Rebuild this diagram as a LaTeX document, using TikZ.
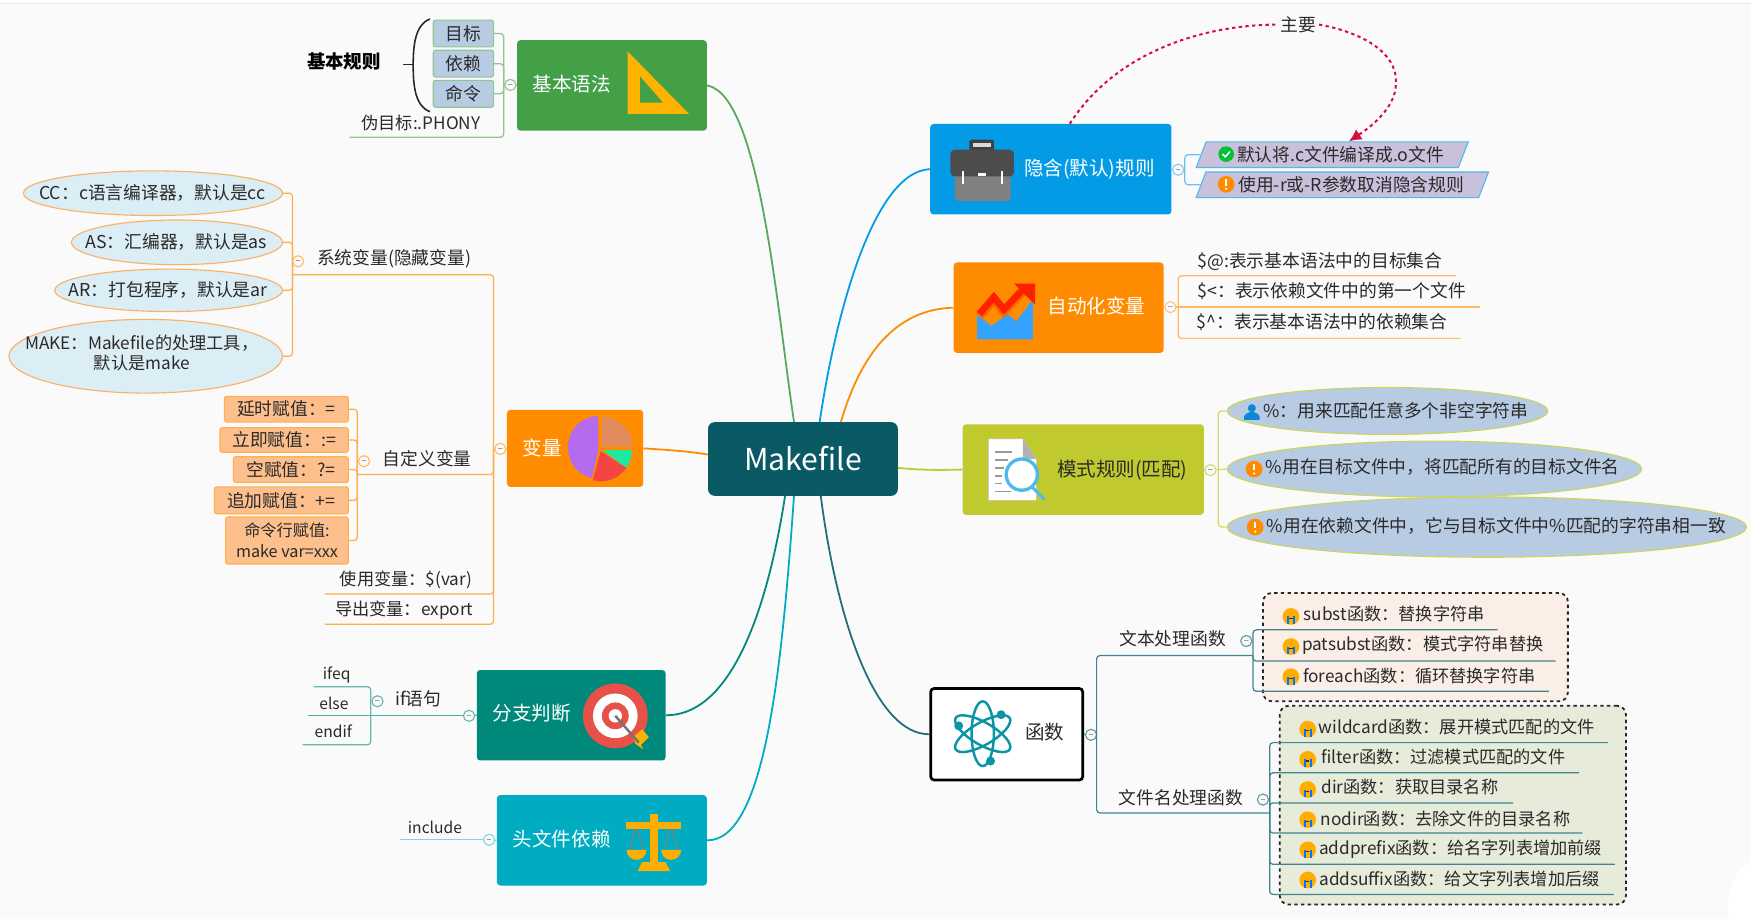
\documentclass[tikz,border=0pt]{standalone}
\usepackage{fontspec}
\setmainfont{Noto Sans CJK SC}
\usepackage{tikz}
\usetikzlibrary{arrows.meta}
\usetikzlibrary{shapes.geometric}
\definecolor{bgc}{HTML}{FAFAFA}
\definecolor{inkc}{HTML}{2A2A2A}
\definecolor{rootc}{HTML}{095A64}
\definecolor{greenc}{HTML}{43A047}
\definecolor{bluec}{HTML}{039BE5}
\definecolor{orangec}{HTML}{FF8C00}
\definecolor{olivec}{HTML}{C0CA2E}
\definecolor{tealc}{HTML}{00897B}
\definecolor{cyanc}{HTML}{00ACC1}
\definecolor{navyc}{HTML}{1F6F7C}
\definecolor{skyc}{HTML}{B7CBE3}
\definecolor{icec}{HTML}{DCEEF5}
\definecolor{peachc}{HTML}{FDBF8C}
\definecolor{lilacc}{HTML}{C9C1DB}
\definecolor{creamc}{HTML}{FBEEE6}
\definecolor{sagec}{HTML}{E7EBD9}
\definecolor{relc}{HTML}{D40F3C}
\definecolor{goldc}{HTML}{FFB300}
\definecolor{ovalc}{HTML}{F9B265}
\definecolor{targetc}{HTML}{E8504A}
\definecolor{piea}{HTML}{E08C5C}
\definecolor{pieb}{HTML}{1DE9A0}
\definecolor{piec}{HTML}{F44545}
\definecolor{pied}{HTML}{B56BF0}
\tikzset{
  okicon/.pic={\fill[green!70!black!80!cyan] (0,0) circle (7pt);
    \draw[white,line width=1.4pt] (-3.2,0) -- (-0.8,2.4) -- (3.4,-2.2);},
  warnicon/.pic={\fill[orange!90!yellow] (0,0) circle (7.5pt);
    \draw[white,line width=1.8pt] (0,-4.5) -- (0,1.2);
    \fill[white] (0,4) circle (1.1pt);},
  usericon/.pic={\fill[cyan!70!blue] (0,-3.5) circle (3.6pt);
    \fill[cyan!70!blue] (-7,7) -- (-7,4) .. controls (-6,1) and (-3,1) .. (-2,0) -- (2,0) .. controls (3,1) and (6,1) .. (7,4) -- (7,7) -- cycle;},
  cryicon/.pic={\fill[goldc!90!orange] (0,0) circle (7.5pt);
    \fill[blue!55!cyan] (-3.5,0) rectangle (-1.8,7);
    \fill[blue!55!cyan] (1.8,0) rectangle (3.5,7);
    \fill[inkc] (-1.5,1) rectangle (1.5,2);},
}
\begin{document}
\begin{tikzpicture}[x=1pt,y=-1pt,
    topic/.style={rectangle,rounded corners=3pt,inner sep=0pt},
    toptxt/.style={inner sep=0pt,text=white,font=\fontsize{17.5}{21}\selectfont},
    txt/.style={inner sep=0pt,text=inkc,font=\fontsize{15.9}{19}\selectfont},
    fntxt/.style={inner sep=0pt,text=inkc,font=\fontsize{15.4}{18}\selectfont},
    smalltxt/.style={inner sep=0pt,text=inkc,font=\fontsize{14}{17}\selectfont},
    coll/.style={circle,draw,line width=1pt,fill=bgc,minimum size=10pt,inner sep=0pt,font=\fontsize{6}{6}\selectfont},
    oval/.style={ellipse,draw,line width=1pt,inner sep=0pt},
    tag/.style={rectangle,rounded corners=2pt,draw,line width=1pt,inner sep=0pt,text=inkc,font=\fontsize{15.9}{19}\selectfont},
    slant/.style={trapezium,trapezium left angle=62,trapezium right angle=118,trapezium stretches=true,draw=bluec!70!white,fill=lilacc,line width=1pt,inner sep=0pt,text=inkc,font=\fontsize{15.9}{19}\selectfont},
    mainline/.style={line width=1.6pt},
    br/.style={line width=1.1pt,rounded corners=3pt},
    dashbox/.style={rectangle,rounded corners=8pt,draw=black!85,dashed,line width=1.6pt,inner sep=0pt}]
    \useasboundingbox (0,0) rectangle (1568,823);
    \fill[bgc] (0,0) rectangle (1568,823);
    \fill[white] (0,0) rectangle (1568,3);
    \fill[black!8] (0,3) rectangle (1568,4);
    \fill[white] (1568,771) .. controls (1552,780) and (1545,800) .. (1548,823) -- (1568,823) -- cycle;

    % root and main topics
    \node[topic,fill=rootc,rounded corners=6pt,minimum width=170pt,minimum height=66pt,text=white,font=\fontsize{27}{31}\selectfont] (root) at (719,411) {Makefile};
    \node[topic,fill=greenc,minimum width=170pt,minimum height=81pt] (basic) at (548,76.5) {};
    \node[topic,fill=bluec,minimum width=216pt,minimum height=81pt] (hidden) at (941,151.5) {};
    \node[topic,fill=orangec,minimum width=188pt,minimum height=81pt] (auto) at (948,275.5) {};
    \node[topic,fill=olivec,minimum width=216pt,minimum height=81pt] (pattern) at (970,420.5) {};
    \node[topic,fill=white,draw=black,line width=2.4pt,minimum width=136pt,minimum height=82pt] (func) at (901.5,657.5) {};
    \node[topic,fill=orangec,minimum width=122pt,minimum height=69pt] (var) at (515,401.5) {};
    \node[topic,fill=tealc,minimum width=169pt,minimum height=81pt] (branch) at (511.5,640.5) {};
    \node[topic,fill=cyanc,minimum width=188pt,minimum height=81pt] (incl) at (539,752.5) {};
    \node[toptxt] (basictxt) at (512,75) {基本语法};
    \node[toptxt] (hiddentxt) at (975.5,151.5) {隐含(默认)规则};
    \node[toptxt] (autotxt) at (982,274) {自动化变量};
    \node[toptxt,text=inkc] (patterntxt) at (1005,421) {模式规则(匹配)};
    \node[toptxt,text=inkc] (functxt) at (935.5,656) {函数};
    \node[toptxt] (vartxt) at (485.5,401) {变量};
    \node[toptxt] (branchtxt) at (476,638.5) {分支判断};
    \node[toptxt] (incltxt) at (503,751) {头文件依赖};

    \draw[mainline,greenc!90!white] (basic.east) .. controls (680,85) and (695,270) .. ([xshift=-8pt]root.north);
    \draw[mainline,bluec] (hidden.west) .. controls (785,153) and (750,270) .. ([xshift=15pt]root.north);
    \draw[mainline,orangec] (auto.west) .. controls (800,277) and (770,320) .. ([xshift=34pt]root.north);
    \draw[mainline,olivec] ([yshift=-8pt]root.east) .. controls (825,421) and (840,421) .. (pattern.west);
    \draw[mainline,navyc] ([xshift=16pt]root.south) .. controls (750,560) and (785,658) .. (func.west);
    \draw[mainline,orangec] (var.east) .. controls (600,403) and (615,404) .. ([yshift=4pt]root.west);
    \draw[mainline,tealc] ([xshift=-16pt]root.south) .. controls (685,560) and (650,641) .. (branch.east);
    \draw[mainline,cyanc] ([xshift=-8pt]root.south) .. controls (700,600) and (685,753) .. (incl.east);

    % basic rules
    \node[tag,fill=skyc,draw=greenc!60!white,minimum width=54pt,minimum height=24pt] (goal) at (415,30) {目标};
    \node[tag,fill=skyc,draw=greenc!60!white,minimum width=54pt,minimum height=24pt] (dep) at (415,57) {依赖};
    \node[tag,fill=skyc,draw=greenc!60!white,minimum width=54pt,minimum height=24pt] (cmd) at (415,84) {命令};
    \node[fntxt] (phony) at (377,110) {伪目标:.PHONY};
    \node[inner sep=0pt,text=black,font=\bfseries\fontsize{16.5}{19}\selectfont] (rule) at (308,55) {基本规则};
    \node[coll,draw=greenc!60!white] (basiccoll) at (457,76) {$-$};
    \coordinate (basicspine) at (451,76);
    \coordinate (phonyl) at (313,123);
    \draw[line width=1.4pt,black!85] (385,17) .. controls (372,22) and (370,40) .. (370,58) .. controls (370,78) and (372,95) .. (385,100);
    \draw[line width=1.2pt,black!85] (361,58) -- (370,58);
    \draw[br,greenc!60!white] (goal.east) -| (basicspine);
    \draw[br,greenc!60!white] (dep.east) -| (basicspine);
    \draw[br,greenc!60!white] (cmd.east) -| (basicspine);
    \draw[br,greenc!60!white] (phonyl) -| (basicspine);
    \draw[br,greenc!60!white] (basic.west) -- (basiccoll) -- (basicspine);

    % variables
    \node[oval,fill=icec,draw=ovalc,minimum width=232pt,minimum height=40pt] (cc) at (137,173) {};
    \node[oval,fill=icec,draw=ovalc,minimum width=189pt,minimum height=40pt] (as) at (158.5,217) {};
    \node[oval,fill=icec,draw=ovalc,minimum width=204pt,minimum height=38pt] (ar) at (151,260) {};
    \node[oval,fill=icec,draw=ovalc,minimum width=245pt,minimum height=66pt] (make) at (130.5,319) {};
    \node[txt] (cctxt) at (136.5,173) {CC：c语言编译器，默认是cc};
    \node[txt] (astxt) at (158,217) {AS：汇编器，默认是as};
    \node[txt] (artxt) at (150.5,260) {AR：打包程序，默认是ar};
    \node[fntxt,align=center] (maketxt) at (127,316) {MAKE：Makefile的处理工具，\\默认是make};
    \node[txt] (sys) at (353,232) {系统变量(隐藏变量)};
    \node[txt] (custom) at (382.5,411) {自定义变量};
    \node[fntxt] (usevar) at (363.5,519) {使用变量：\$(var)};
    \node[fntxt] (expvar) at (362,546) {导出变量：export};
    \node[tag,fill=peachc,draw=orangec!70!white,minimum width=111pt,minimum height=23pt] (delay) at (256.5,366.5) {延时赋值：=};
    \node[tag,fill=peachc,draw=orangec!70!white,minimum width=115pt,minimum height=22pt] (now) at (254.5,394) {立即赋值：:=};
    \node[tag,fill=peachc,draw=orangec!70!white,minimum width=103pt,minimum height=23pt] (empty) at (260.5,420.5) {空赋值：?=};
    \node[tag,fill=peachc,draw=orangec!70!white,minimum width=120pt,minimum height=24pt] (append) at (252,448) {追加赋值：+=};
    \node[tag,fill=peachc,draw=orangec!70!white,minimum width=110pt,minimum height=42pt,align=center,font=\fontsize{14.5}{19}\selectfont] (cmdline) at (257,484) {命令行赋值:\\make var=xxx};
    \node[coll,draw=orangec!60!white] (varcoll) at (448,402) {$-$};
    \node[coll,draw=orangec!60!white] (syscoll) at (267,234) {$-$};
    \node[coll,draw=orangec!60!white] (customcoll) at (326,413) {$-$};
    \coordinate (varspine) at (442,402);
    \coordinate (sysl) at (262,246);
    \coordinate (customl) at (320,425);
    \coordinate (usel) at (291,532);
    \coordinate (expl) at (291,559);
    \draw[br,orangec!70!white] (sysl) -| (varspine);
    \draw[br,orangec!70!white] (customl) -| (varspine);
    \draw[br,orangec!70!white] (usel) -| (varspine);
    \draw[br,orangec!70!white] (expl) -| (varspine);
    \draw[br,orangec!70!white] (var.west) -- (varcoll) -- (varspine);
    \draw[br,orangec!70!white] (cc.east) -| (sysl);
    \draw[br,orangec!70!white] (as.east) -| (sysl);
    \draw[br,orangec!70!white] (ar.east) -| (sysl);
    \draw[br,orangec!70!white] (make.east) -| (sysl);
    \draw[br,orangec!70!white] (delay.east) -| (customl);
    \draw[br,orangec!70!white] (now.east) -| (customl);
    \draw[br,orangec!70!white] (empty.east) -| (customl);
    \draw[br,orangec!70!white] (append.east) -| (customl);
    \draw[br,orangec!70!white] (cmdline.east) -| (customl);

    % if statement
    \node[smalltxt] (ifeq) at (301.5,604) {ifeq};
    \node[smalltxt] (else) at (299,630) {else};
    \node[smalltxt] (endif) at (298.5,655) {endif};
    \node[txt] (ifst) at (374.5,626) {if语句};
    \node[coll,draw=tealc!60!white] (branchcoll) at (420,641) {$-$};
    \node[coll,draw=tealc!60!white] (ifcoll) at (338,628) {$-$};
    \coordinate (ifl) at (276,641);
    \coordinate (ifspine) at (332,641);
    \coordinate (ifeql) at (281,615);
    \coordinate (endifl) at (271,667);
    \draw[br,tealc!70!white] (ifl) -- (branchcoll);
    \draw[br,tealc!70!white] (branch.west) -- (branchcoll);
    \draw[br,tealc!60!white] (ifeql) -| (ifspine);
    \draw[br,tealc!60!white] (endifl) -| (ifspine);

    % include
    \node[smalltxt] (inc) at (389.5,741) {include};
    \node[coll,draw=cyanc!50!white] (inclcoll) at (438,752) {$-$};
    \coordinate (incl0) at (358,752);
    \draw[br,cyanc!50!white] (incl0) -- (inclcoll);
    \draw[br,cyanc!50!white] (incl.west) -- (inclcoll);

    % implicit rules
    \node[slant,minimum width=244pt,minimum height=23pt] (defrule) at (1193,138.5) {\hspace*{15pt}默认将.c文件编译成.o文件};
    \node[slant,minimum width=262pt,minimum height=23pt] (norule) at (1202,165.5) {\hspace*{16pt}使用-r或-R参数取消隐含规则};
    \node[coll,draw=bluec!50!white] (hiddencoll) at (1055,152) {$-$};
    \coordinate (hiddenspine) at (1061,152);
    \draw[br,bluec!60!white] (hidden.east) -- (hiddencoll) -- (hiddenspine);
    \draw[br,bluec!60!white] (defrule.west) -| (hiddenspine);
    \draw[br,bluec!60!white] (norule.west) -| (hiddenspine);
    \node[inner sep=0pt,text=inkc,font=\fontsize{15.9}{19}\selectfont,fill=bgc,inner xsep=2pt] (mainlbl) at (1163,22) {主要};
    \draw[relc,dashed,line width=1.8pt] ([xshift=17pt]hidden.north) .. controls (1000,45) and (1080,22) .. (mainlbl.west);
    \draw[relc,dashed,line width=1.8pt,-{Latex[length=11pt,width=11pt]}] (mainlbl.east) .. controls (1215,28) and (1252,45) .. (1250,75) .. controls (1250,95) and (1230,112) .. ([xshift=15pt]defrule.north);

    % automatic variables
    \node[txt] (atv) at (1182,234) {\$@:表示基本语法中的目标集合};
    \node[txt] (ltv) at (1192.5,261) {\$<：表示依赖文件中的第一个文件};
    \node[txt] (hatv) at (1184,288) {\$\textasciicircum：表示基本语法中的依赖集合};
    \node[coll,draw=orangec!50!white] (autocoll) at (1048,275) {$-$};
    \coordinate (autospine) at (1055,275);
    \coordinate (atl) at (1304,247);
    \coordinate (ltl) at (1325,275);
    \coordinate (hatl) at (1308,303);
    \draw[br,orangec!60!white] (atl) -| (autospine);
    \draw[br,orangec!60!white] (hatl) -| (autospine);
    \draw[br,orangec!60!white] (ltl) -- (autospine) -- (autocoll);
    \draw[br,orangec!60!white] (auto.east) -- (autocoll);

    % pattern rules
    \node[oval,fill=skyc,draw=olivec!80!white,minimum width=287pt,minimum height=42pt] (pct) at (1242.5,368) {};
    \node[oval,fill=skyc,draw=olivec!80!white,minimum width=371pt,minimum height=50pt] (pcta) at (1284.5,420) {};
    \node[oval,fill=skyc,draw=olivec!80!white,minimum width=465pt,minimum height=54pt] (pctb) at (1331.5,472) {};
    \node[txt] (pcttxt) at (1250,368) {\%：用来匹配任意多个非空字符串};
    \node[txt] (pctatxt) at (1292,418) {\%用在目标文件中，将匹配所有的目标文件名};
    \node[txt] (pctbtxt) at (1340,471) {\%用在依赖文件中，它与目标文件中\%匹配的字符串相一致};
    \node[coll,draw=olivec!70!white] (patterncoll) at (1084,421) {$-$};
    \coordinate (patternspine) at (1091,421);
    \draw[br,olivec!70!white] (pattern.east) -- (patterncoll) -- (pcta.west);
    \draw[br,olivec!70!white] (pct.west) -| (patternspine);
    \draw[br,olivec!70!white] (pctb.west) -| (patternspine);

    % functions
    \node[dashbox,fill=creamc,minimum width=273pt,minimum height=97pt] (textbox) at (1267.5,579.5) {};
    \node[dashbox,fill=sagec,minimum width=310pt,minimum height=178pt] (filebox) at (1301,721) {};
    \node[txt] (textfn) at (1050,572) {文本处理函数};
    \node[txt] (filefn) at (1057.5,714) {文件名处理函数};
    \node[fntxt] (subst) at (1248.5,550) {subst函数：替换字符串};
    \node[fntxt] (patsubst) at (1274,578) {patsubst函数：模式字符串替换};
    \node[fntxt] (foreach) at (1271,605) {foreach函数：循环替换字符串};
    \node[fntxt] (wildcard) at (1304.5,651) {wildcard函数：展开模式匹配的文件};
    \node[fntxt] (filter) at (1292.5,678) {filter函数：过滤模式匹配的文件};
    \node[fntxt] (dir) at (1262.5,705) {dir函数：获取目录名称};
    \node[fntxt] (nodir) at (1294.5,733) {nodir函数：去除文件的目录名称};
    \node[fntxt] (addprefix) at (1308,760) {addprefix函数：给名字列表增加前缀};
    \node[fntxt] (addsuffix) at (1307,787) {addsuffix函数：给文字列表增加后缀};
    \node[coll,draw=navyc!70!white] (funccoll) at (977,658) {$-$};
    \node[coll,draw=navyc!70!white] (textcoll) at (1116,574) {$-$};
    \node[coll,draw=navyc!70!white] (filecoll) at (1131,716) {$-$};
    \coordinate (funcspine) at (982,658);
    \coordinate (textl) at (1122,587);
    \coordinate (filel) at (1137,728);
    \coordinate (substl) at (1341,564);
    \coordinate (patl) at (1393,592);
    \coordinate (forl) at (1387,619);
    \coordinate (wildl) at (1440,665);
    \coordinate (filtl) at (1414,692);
    \coordinate (dirl) at (1355,719);
    \coordinate (nodl) at (1417,746);
    \coordinate (prel) at (1446,774);
    \coordinate (sufl) at (1445,801);
    \draw[br,navyc!85!white] (func.east) -- (funccoll) -- (funcspine);
    \draw[br,navyc!85!white] (textl) -| (funcspine);
    \draw[br,navyc!85!white] (filel) -| (funcspine);
    \draw[br,navyc!85!white] (substl) -| (textl);
    \draw[br,navyc!85!white] (patl) -| (textl);
    \draw[br,navyc!85!white] (forl) -| (textl);
    \draw[br,navyc!85!white] (wildl) -| (filel);
    \draw[br,navyc!85!white] (filtl) -| (filel);
    \draw[br,navyc!85!white] (dirl) -| (filel);
    \draw[br,navyc!85!white] (nodl) -| (filel);
    \draw[br,navyc!85!white] (prel) -| (filel);
    \draw[br,navyc!85!white] (sufl) -| (filel);

    % small markers
    \pic at (1098,138) {okicon};
    \pic at (1098,165) {warnicon};
    \pic at (1121,369) {usericon};
    \pic at (1123,420) {warnicon};
    \pic at (1124,472) {warnicon};
    \pic at (1156,552) {cryicon};
    \pic at (1156,579) {cryicon};
    \pic at (1156,606) {cryicon};
    \pic at (1171,653) {cryicon};
    \pic at (1171,680) {cryicon};
    \pic at (1171,707) {cryicon};
    \pic at (1171,734) {cryicon};
    \pic at (1171,761) {cryicon};
    \pic at (1171,788) {cryicon};

    % ruler
    \fill[goldc,even odd rule] (562,46) -- (617,102) -- (562,102) -- cycle (573,68) -- (573,92) -- (594,92) -- cycle;
    % briefcase
    \fill[black!75,rounded corners=2pt] (868,125) rectangle (890,136);
    \fill[white!85!black] (871,128) rectangle (887,132);
    \fill[black!50,rounded corners=3pt] (855,154) rectangle (905,180);
    \fill[black!70,rounded corners=4pt] (851,134) rectangle (908,158);
    \fill[white] (861,153) rectangle (863,165);
    \fill[white] (896,153) rectangle (898,165);
    \fill[white] (876,155) rectangle (883,158);
    % rising chart
    \fill[blue!45!cyan!80!white] (875,304) -- (875,282) -- (888,292) -- (902,281) -- (910,288) -- (925,268) -- (925,304) -- cycle;
    \draw[orangec!70!red,line width=8pt] (877,283) -- (890,268) -- (899,279) -- (917,260);
    \draw[red!75!orange,line width=6pt] (877,281) -- (890,266) -- (899,277) -- (917,258);
    \fill[red!75!orange] (908,254) -- (927,254) -- (927,273) -- cycle;
    % document and magnifier
    \fill[white] (885,393) -- (916,393) -- (928,411) -- (928,448) -- (885,448) -- cycle;
    \draw[black!25] (885,393) -- (916,393) -- (928,411) -- (928,448) -- (885,448) -- cycle;
    \fill[black!30] (916,393) -- (928,411) -- (916,411) -- cycle;
    \draw[black!40,line width=1.4pt] (891,405) -- (906,405);
    \draw[black!40,line width=1.4pt] (891,412) -- (903,412);
    \draw[black!40,line width=1.4pt] (891,419) -- (899,419);
    \draw[black!40,line width=1.4pt] (891,426) -- (897,426);
    \draw[black!40,line width=1.4pt] (891,433) -- (897,433);
    \draw[black!40,line width=1.4pt] (891,440) -- (905,440);
    \draw[bluec!70!white,line width=2.6pt,line cap=round] (925,437) -- (935,447);
    \draw[bluec!70!white,fill=white,line width=3pt] (915,425) circle (14pt);
    % pie
    \fill[piea] (539,400) -- (539,373) arc (90:0:27pt) -- cycle;
    \fill[pieb] (540,403) -- (566,403) arc (0:-38:26pt) -- cycle;
    \fill[piec] (538,404) -- (561,419) arc (-35:-105:28pt) -- cycle;
    \fill[pied] (536,402) -- (530,428) arc (-102:-270:27pt and 28pt) -- cycle;
    % target and arrow
    \fill[targetc] (551,641) circle (29pt);
    \fill[white] (551,641) circle (20pt);
    \fill[targetc] (551,641) circle (12pt);
    \fill[white] (551,641) circle (6pt);
    \fill[goldc] (567,660) -- (575,653) -- (581,660) -- (574,667) -- (576,671) -- (569,666) -- cycle;
    \draw[black!55,line width=2.2pt] (551,641) -- (572,665);
    % scales
    \draw[black!50,line width=1pt] (570,740) -- (563,762) (570,740) -- (577,762) (601,740) -- (594,762) (601,740) -- (608,762);
    \fill[goldc!90!orange] (561,736) rectangle (610,742);
    \fill[goldc!90!orange] (582,729) rectangle (589,772);
    \fill[goldc!90!orange] (571,780) -- (575,772) -- (596,772) -- (600,780) -- cycle;
    \fill[goldc!90!orange] (561,761) arc (180:360:9pt) -- cycle;
    \fill[goldc!90!orange] (592,761) arc (180:360:9pt) -- cycle;
    % atom
    \draw[cyanc!60!navyc,line width=2.2pt] (880,657) ellipse [x radius=10pt,y radius=29pt];
    \draw[cyanc!60!navyc,line width=2.2pt,rotate around={60:(880,657)}] (880,657) ellipse [x radius=10pt,y radius=28pt];
    \draw[cyanc!60!navyc,line width=2.2pt,rotate around={-60:(880,657)}] (880,657) ellipse [x radius=10pt,y radius=28pt];
    \fill[cyanc!60!navyc] (896.5,640) circle (4pt);
    \fill[cyanc!60!navyc] (858.5,650) circle (4pt);
    \fill[cyanc!60!navyc] (887,681.5) circle (4pt);
\end{tikzpicture}
\end{document}
